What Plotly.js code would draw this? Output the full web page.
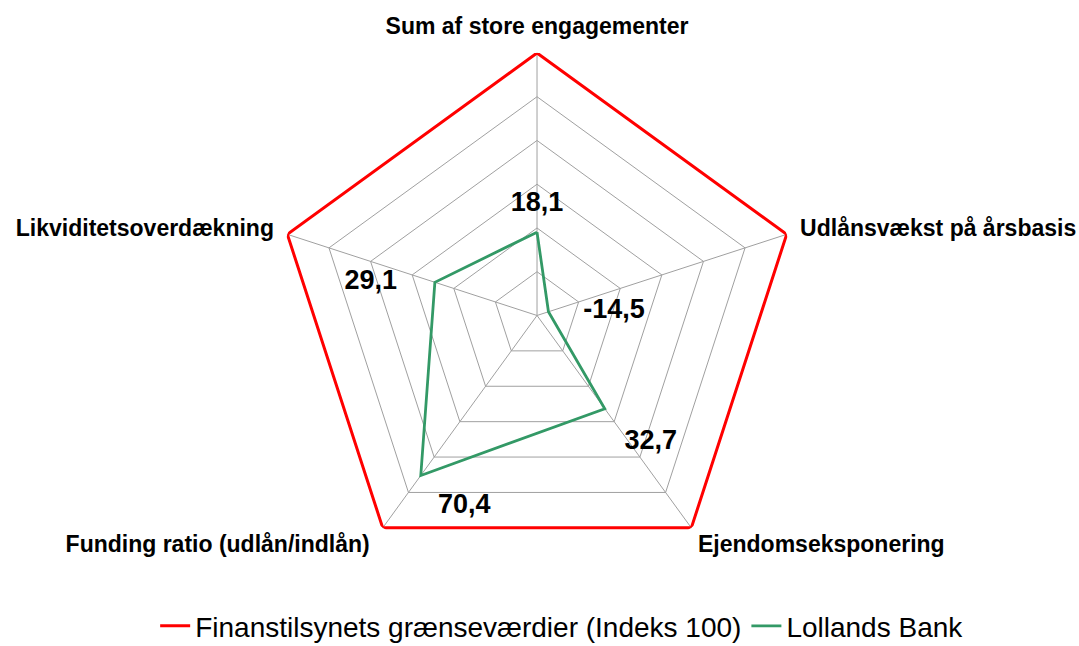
<!DOCTYPE html>
<html>
<head>
<meta charset="utf-8">
<script src="https://cdn.plot.ly/plotly-3.0.1.min.js"></script>
<style>html,body{margin:0;padding:0;background:#fff;}#chart{width:1079px;height:646px;}</style>
</head>
<body>
<div id="chart"></div>
<script>
var categories = ["Sum af store engagementer", "Udlånsvækst på årsbasis", "Ejendomseksponering", "Funding ratio (udlån/indlån)", "Likviditetsoverdækning"];
var limitValues = [100, 100, 100, 100, 100];
var bankValues = [18.1, -14.5, 32.7, 70.4, 29.1];
var bankLabels = ["18,1", "-14,5", "32,7", "70,4", "29,1"];
var seriesNames = ["Finanstilsynets grænseværdier (Indeks 100)", "Lollands Bank"];

// label placement styling (not data)
var labelPositions = ['top center', 'middle right', 'bottom right', 'bottom right', 'middle left'];
var labelOffsets = [22, 54, 30, 26, 59];

function closeLoop(a) { return a.concat([a[0]]); }

var font = "'Liberation Sans', Arial, Helvetica, sans-serif";
var NBSP = '\u00a0';

// upper three category labels drawn by the pentagon grid, lower two by the overlay axis
var upperText = categories.map(function (c, i) { return (i === 2 || i === 3) ? '' : c; });
var lowerText = categories.map(function (c, i) {
  if (i === 2) return NBSP + c;
  if (i === 3) return c + NBSP + NBSP;
  return '';
});

var traces = [
  {
    type: 'scatterpolar', subplot: 'polar2', mode: 'lines', name: seriesNames[0],
    r: closeLoop(limitValues), theta: closeLoop(categories),
    line: {color: '#FF0000', width: 3}, hoverinfo: 'skip', cliponaxis: false
  },
  {
    type: 'scatterpolar', subplot: 'polar', mode: 'lines', name: seriesNames[1],
    r: closeLoop(bankValues), theta: closeLoop(categories),
    line: {color: '#339966', width: 2.8}, hoverinfo: 'skip', cliponaxis: false
  },
  {
    type: 'scatterpolar', subplot: 'polar2', mode: 'markers+text', showlegend: false,
    r: bankValues, theta: categories, text: bankLabels,
    textposition: labelPositions,
    marker: {size: labelOffsets, opacity: 0},
    textfont: {family: font, size: 27, weight: 'bold', color: '#000'},
    hoverinfo: 'skip', cliponaxis: false
  }
];

var polarDomain = {x: [0.2543, 0.7411], y: [0.1053, 0.918]};
var tickFont = {family: font, size: 23, weight: 'bold', color: '#000'};

var layout = {
  width: 1079, height: 646,
  margin: {l: 0, r: 0, t: 0, b: 0, autoexpand: false},
  paper_bgcolor: '#fff',
  font: {family: font, color: '#000'},
  showlegend: true,
  legend: {
    orientation: 'h', x: 0.521, xanchor: 'center',
    y: -0.008, yanchor: 'bottom',
    font: {family: font, size: 28, color: '#000'}
  },
  polar: {
    domain: polarDomain,
    gridshape: 'linear',
    bgcolor: '#fff',
    angularaxis: {
      type: 'category', categoryarray: categories,
      direction: 'clockwise', rotation: 90,
      tickmode: 'array', tickvals: categories, ticktext: upperText,
      tickfont: tickFont,
      ticks: 'outside', ticklen: 9, tickcolor: 'rgba(0,0,0,0)',
      showline: true, linecolor: '#A0A0A0', linewidth: 1, layer: 'below traces',
      gridcolor: '#A0A0A0', gridwidth: 1
    },
    radialaxis: {
      range: [-20, 100], dtick: 20, tick0: 0,
      showticklabels: false, ticks: '', showline: false, layer: 'below traces',
      gridcolor: '#A0A0A0', gridwidth: 1
    }
  },
  polar2: {
    domain: polarDomain,
    gridshape: 'circular',
    bgcolor: 'rgba(0,0,0,0)',
    angularaxis: {
      type: 'category', categoryarray: categories,
      direction: 'clockwise', rotation: 90,
      tickmode: 'array', tickvals: categories, ticktext: lowerText,
      tickfont: tickFont,
      ticks: '', showgrid: false, showline: false
    },
    radialaxis: {
      range: [-20, 100], showgrid: false, showticklabels: false, ticks: '', showline: false
    }
  }
};

Plotly.newPlot('chart', traces, layout, {displayModeBar: false, staticPlot: true});
</script>
</body>
</html>
